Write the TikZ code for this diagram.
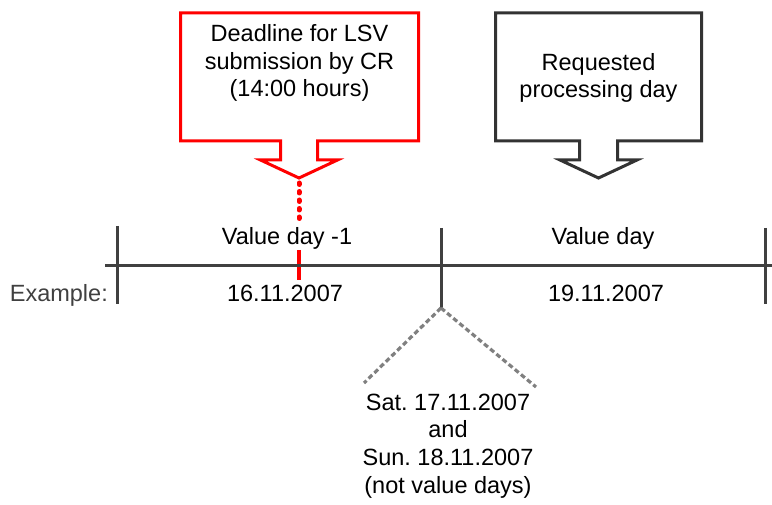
\documentclass[tikz,border=0pt]{standalone}
\usepackage{fontspec}
\setmainfont{Liberation Sans}
\frenchspacing
\begin{document}
\begin{tikzpicture}[x=1pt,y=-1pt,
  lbl/.style={font=\fontsize{23.5}{27.5}\selectfont, inner sep=0pt, align=center, anchor=base},
  callout/.style={line width=3pt, line join=miter},
  axis/.style={draw=black!75, line width=3pt},
  weekend/.style={draw=black!50, line width=3.2pt, dash pattern=on 5pt off 3pt}]
\useasboundingbox (0,0) rectangle (772,505);

% callout boxes with down-pointing arrows
\draw[callout, draw=red] (180.5,13) -- (418.5,13) -- (418.5,141) -- (317.5,141) -- (317.5,160)
  -- (337.5,160) -- (299,178) -- (260.5,160) -- (280.5,160) -- (280.5,141) -- (180.5,141) -- cycle;
\draw[callout, draw=black!80] (495.5,13) -- (701.5,13) -- (701.5,141) -- (617.5,141) -- (617.5,160)
  -- (637,160) -- (598.5,178) -- (560,160) -- (579.5,160) -- (579.5,141) -- (495.5,141) -- cycle;
\node[lbl] (deadline) at (299.5,97) {Deadline for LSV\\submission by CR\\(14:00 hours)};
\node[lbl] (requested) at (598.5,98) {Requested\\processing day};

% deadline marker
\coordinate (tip) at (299,183);
\coordinate (dotend) at (299,222);
\draw[red, line width=5pt, line cap=round, dash pattern=on 1.5pt off 7pt] (tip) -- (dotend);
\draw[red, line width=4pt] (299,250) -- (299,280);

% time axis
\coordinate (axL) at (105,266);
\coordinate (axR) at (772,266);
\draw[axis] (axL) -- (axR);
\coordinate (t1a) at (117,226); \coordinate (t1b) at (117,304);
\coordinate (t2a) at (441,228); \coordinate (t2b) at (441,308);
\coordinate (t3a) at (765,228); \coordinate (t3b) at (765,304);
\draw[axis] (t1a) -- (t1b);
\draw[axis] (t2a) -- (t2b);
\draw[axis] (t3a) -- (t3b);

\node[lbl] (vdm1) at (287,245) {Value day -1};
\node[lbl] (d16) at (285,302) {16.11.2007};
\node[lbl] (vd) at (603,245) {Value day};
\node[lbl] (d19) at (606,302) {19.11.2007};
\node[lbl, anchor=base east, text=black!75] (example) at (108,302) {Example:};

% weekend
\coordinate (wkL) at (364,383);
\coordinate (wkR) at (536,387);
\draw[weekend] (t2b) -- (wkL);
\draw[weekend] (t2b) -- (wkR);
\node[lbl] (weekendtext) at (448,493) {Sat. 17.11.2007\\and\\Sun. 18.11.2007\\(not value days)};
\end{tikzpicture}
\end{document}
